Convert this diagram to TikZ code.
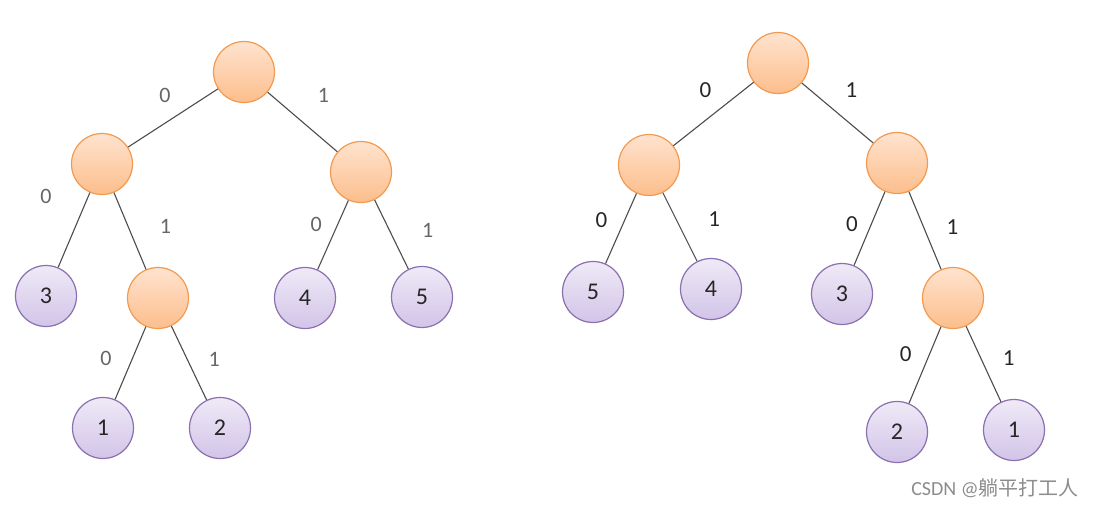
\documentclass[tikz,border=0pt]{standalone}
\usepackage{fontspec}
\setmainfont{Carlito}
\newfontfamily\cjkfont{Noto Sans CJK SC}
\usepackage{tikz}
\usetikzlibrary{positioning}

\definecolor{innerTop}{HTML}{FFE3CF}
\definecolor{innerBot}{HTML}{FCBE8C}
\definecolor{innerLine}{HTML}{F49A50}
\definecolor{leafTop}{HTML}{EFEAF7}
\definecolor{leafBot}{HTML}{D2C4E8}
\definecolor{leafLine}{HTML}{8A70AE}

\begin{document}
\begin{tikzpicture}[
        x=1pt, y=-1pt,
        inner/.style={circle, draw=innerLine, line width=1.2pt, minimum size=61pt, top color=innerTop, bottom color=innerBot},
        leaf/.style={circle, draw=leafLine, line width=1.2pt, minimum size=61pt, top color=leafTop, bottom color=leafBot, font=\fontsize{24}{28}\selectfont, text=black!85},
        edge/.style={draw=black!70, line width=1.1pt},
        bit/.style={font=\fontsize{22}{26}\selectfont, text=black!60},
        bitdark/.style={font=\fontsize{23}{26}\selectfont, text=black!85}
    ]
    \useasboundingbox (0,0) rectangle (1097,508);

    % left tree
    \node[inner] (rootA) at (244,72) {};
    \node[inner] (nA) at (102,164) {};
    \node[inner] (nB) at (361,172) {};
    \node[leaf] (lf3) at (46,296) {3};
    \node[inner] (nC) at (158,298) {};
    \node[leaf] (lf4) at (305,298) {4};
    \node[leaf] (lf5) at (422,297) {5};
    \node[leaf] (lf1) at (103,428) {1};
    \node[leaf] (lf2) at (220,428) {2};

    \draw[edge] (rootA) -- (nA) node[bit, midway, xshift=-8pt, yshift=23pt] {0};
    \draw[edge] (rootA) -- (nB) node[bit, midway, xshift=21pt, yshift=27pt] {1};
    \draw[edge] (nA) -- (lf3) node[bit, pos=.25, xshift=-36pt, yshift=15pt] {0};
    \draw[edge] (nA) -- (nC) node[bit, pos=.45, xshift=37pt, yshift=1pt] {1};
    \draw[edge] (nB) -- (lf4) node[bit, pos=.4, xshift=-20pt, yshift=4pt] {0};
    \draw[edge] (nB) -- (lf5) node[bit, pos=.45, xshift=38pt, yshift=1pt] {1};
    \draw[edge] (nC) -- (lf1) node[bit, pos=.45, xshift=-26pt, yshift=1pt] {0};
    \draw[edge] (nC) -- (lf2) node[bit, pos=.45, xshift=27pt] {1};

    % right tree
    \node[inner] (rootB) at (778,63) {};
    \node[inner] (mA) at (649,165) {};
    \node[inner] (mB) at (897,163) {};
    \node[leaf] (rt5) at (593,292) {5};
    \node[leaf] (rt4) at (711,289) {4};
    \node[leaf] (rt3) at (842,294) {3};
    \node[inner] (mC) at (953,298) {};
    \node[leaf] (rt2) at (897,432) {2};
    \node[leaf] (rt1) at (1014,430) {1};

    \draw[edge] (rootB) -- (mA) node[bitdark, midway, xshift=-8pt, yshift=24pt] {0};
    \draw[edge] (rootB) -- (mB) node[bitdark, midway, xshift=14pt, yshift=23pt] {1};
    \draw[edge] (mA) -- (rt5) node[bitdark, pos=.45, xshift=-21pt, yshift=5pt] {0};
    \draw[edge] (mA) -- (rt4) node[bitdark, pos=.45, xshift=36pt, yshift=4pt] {1};
    \draw[edge] (mB) -- (rt3) node[bitdark, pos=.45, xshift=-19pt, yshift=1pt] {0};
    \draw[edge] (mB) -- (mC) node[bitdark, pos=.45, xshift=29pt] {1};
    \draw[edge] (mC) -- (rt2) node[bitdark, pos=.45, xshift=-21pt, yshift=7pt] {0};
    \draw[edge] (mC) -- (rt1) node[bitdark, pos=.45, xshift=27pt, yshift=2pt] {1};

    % watermark
    \node[text=black!45, font=\fontsize{20}{24}\selectfont] (mark) at (995,488) {CSDN @{\cjkfont 躺平打工人}};
\end{tikzpicture}
\end{document}
